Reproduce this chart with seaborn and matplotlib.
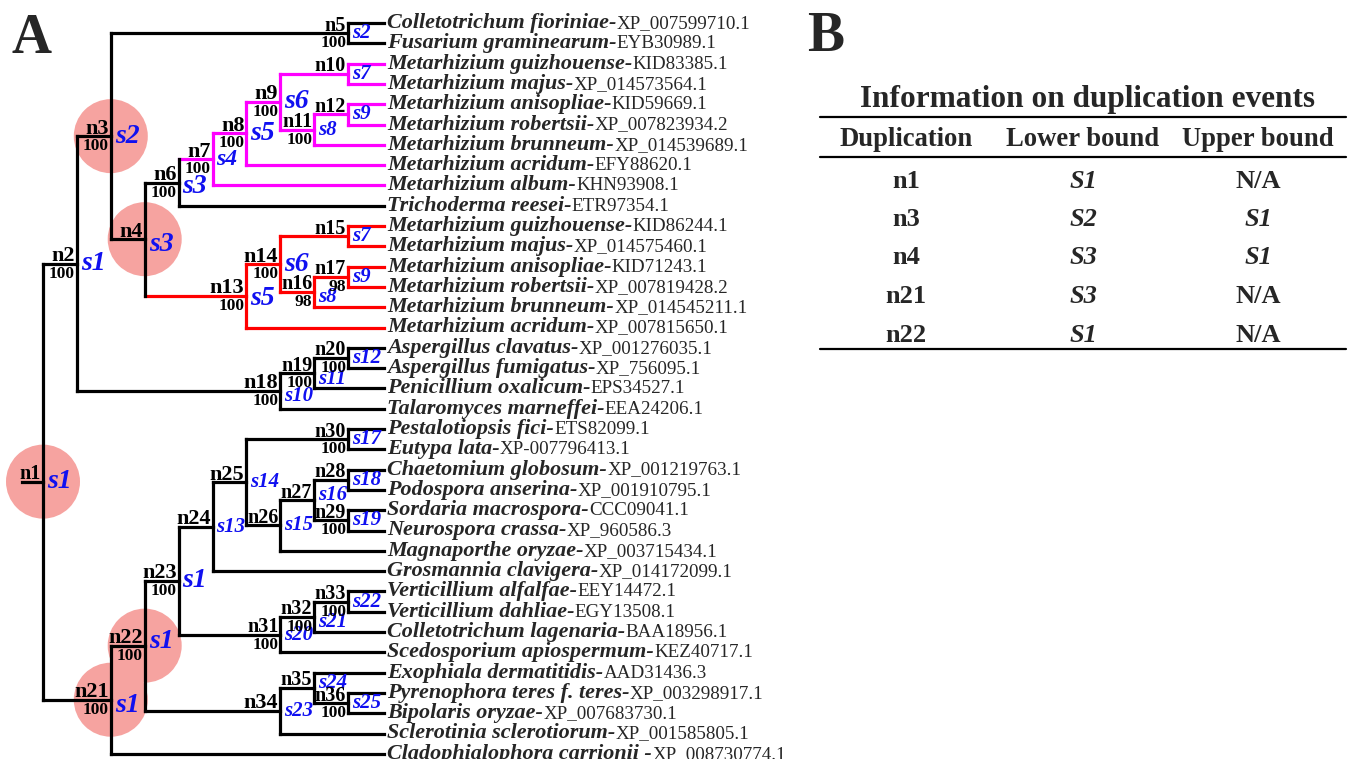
import matplotlib
matplotlib.use("Agg")
import matplotlib.pyplot as plt
import seaborn as sns
import pandas as pd
from matplotlib.patches import Circle

# ---- data -------------------------------------------------------------
species = [
    "Colletotrichum fioriniae", "Fusarium graminearum",
    "Metarhizium guizhouense", "Metarhizium majus", "Metarhizium anisopliae",
    "Metarhizium robertsii", "Metarhizium brunneum", "Metarhizium acridum",
    "Metarhizium album", "Trichoderma reesei",
    "Metarhizium guizhouense", "Metarhizium majus", "Metarhizium anisopliae",
    "Metarhizium robertsii", "Metarhizium brunneum", "Metarhizium acridum",
    "Aspergillus clavatus", "Aspergillus fumigatus", "Penicillium oxalicum",
    "Talaromyces marneffei", "Pestalotiopsis fici", "Eutypa lata",
    "Chaetomium globosum", "Podospora anserina", "Sordaria macrospora",
    "Neurospora crassa", "Magnaporthe oryzae", "Grosmannia clavigera",
    "Verticillium alfalfae", "Verticillium dahliae", "Colletotrichum lagenaria",
    "Scedosporium apiospermum", "Exophiala dermatitidis",
    "Pyrenophora teres f. teres", "Bipolaris oryzae",
    "Sclerotinia sclerotiorum", "Cladophialophora carrionii ",
]
accessions = [
    "XP_007599710.1", "EYB30989.1", "KID83385.1", "XP_014573564.1",
    "KID59669.1", "XP_007823934.2", "XP_014539689.1", "EFY88620.1",
    "KHN93908.1", "ETR97354.1", "KID86244.1", "XP_014575460.1",
    "KID71243.1", "XP_007819428.2", "XP_014545211.1", "XP_007815650.1",
    "XP_001276035.1", "XP_756095.1", "EPS34527.1", "EEA24206.1",
    "ETS82099.1", "XP-007796413.1", "XP_001219763.1", "XP_001910795.1",
    "CCC09041.1", "XP_960586.3", "XP_003715434.1", "XP_014172099.1",
    "EEY14472.1", "EGY13508.1", "BAA18956.1", "KEZ40717.1",
    "AAD31436.3", "XP_003298917.1", "XP_007683730.1", "XP_001585805.1",
    "XP_008730774.1",
]

node_names = ["n%d" % i for i in range(1, 37)]
# column (depth slot) of each internal node
node_cols = [0, 1, 2, 3, 9, 4, 5, 6, 7, 9, 8, 9, 6, 7, 9, 8, 9, 7, 8, 9,
             2, 3, 4, 5, 6, 7, 8, 9, 9, 9, 7, 8, 9, 7, 8, 9]
# children: str = internal node, int = leaf index
node_children = [
    ("n2", "n21"), ("n3", "n18"), ("n5", "n4"), ("n6", "n13"), (0, 1),
    ("n7", 9), ("n8", 8), ("n9", 7), ("n10", "n11"), (2, 3),
    ("n12", 6), (4, 5), ("n14", 15), ("n15", "n16"), (10, 11),
    ("n17", 14), (12, 13), ("n19", 19), ("n20", 18), (16, 17),
    ("n22", 36), ("n23", "n34"), ("n24", "n31"), ("n25", 27), ("n30", "n26"),
    ("n27", 26), ("n28", "n29"), (22, 23), (24, 25), (20, 21),
    ("n32", 31), ("n33", 30), (28, 29), ("n35", 35), (32, "n36"), (33, 34),
]
bootstrap = [None, 100, 100, None, 100, 100, 100, 100, 100, None,
             100, None, 100, 100, None, 98, 98, 100, 100, 100,
             100, 100, 100, None, None, None, None, None, 100, 100,
             100, 100, 100, None, None, 100]
spec_labels = ["s1", "s1", "s2", "s3", "s2", "s3", "s4", "s5", "s6", "s7",
               "s8", "s9", "s5", "s6", "s7", "s8", "s9", "s10", "s11", "s12",
               "s1", "s1", "s1", "s13", "s14", "s15", "s16", "s18", "s19", "s17",
               "s20", "s21", "s22", "s23", "s24", "s25"]
duplication_nodes = ["n1", "n3", "n4", "n21", "n22"]
clade_roots = {"n7": "magenta", "n13": "red"}

table_dup = ["n1", "n3", "n4", "n21", "n22"]
table_lower = ["S1", "S2", "S3", "S3", "S1"]
table_upper = ["N/A", "S1", "S1", "N/A", "N/A"]

# ---- layout / style ---------------------------------------------------
X0, DX, Y0, DY = 43, 33.9, 23, 20.3
TIP_COL = 10.07
BLUE = "#1010F0"
big_n = {"n2", "n3", "n4", "n6", "n7", "n8", "n9", "n13", "n14", "n18",
         "n21", "n22", "n23", "n24", "n25", "n34"}
big_s = {"n1", "n2", "n3", "n4", "n6", "n8", "n9", "n13", "n14",
         "n21", "n22", "n23"}
s_dy = {"n4": 5, "n6": 4, "n19": 6, "n18": 5, "n21": 6, "n27": -5,
        "n35": -5, "n13": 3, "n16": 5, "n22": -4, "n32": 5}

sns.set_theme(style="white")
plt.rcParams["font.family"] = ["Liberation Serif", "DejaVu Serif"]

def px(c):
    return X0 + c * DX

def py(i):
    return Y0 + i * DY

idx = {n: k for k, n in enumerate(node_names)}
ny = {}

def node_y(n):
    if n not in ny:
        ys = [py(c) if isinstance(c, int) else node_y(c)
              for c in node_children[idx[n]]]
        ny[n] = sum(ys) / 2
    return ny[n]

for n in node_names:
    node_y(n)

colour = {"n1": "black"}
leaf_colour = {}

def paint(n):
    for c in node_children[idx[n]]:
        if isinstance(c, int):
            leaf_colour[c] = colour[n]
        else:
            colour[c] = clade_roots.get(c, colour[n])
            paint(c)

paint("n1")

# build branch segments
vert, horiz = [], []
seg = 0
for n in node_names:
    x = px(node_cols[idx[n]])
    kids = node_children[idx[n]]
    ys = []
    for c in kids:
        if isinstance(c, int):
            cy, cx, col = py(c), px(TIP_COL), leaf_colour[c]
        else:
            cy, cx, col = ny[c], px(node_cols[idx[c]]), colour[c]
        ys.append(cy)
        horiz += [dict(x=x, y=cy, seg=seg, clade=col), dict(x=cx, y=cy, seg=seg, clade=col)]
        seg += 1
    vert += [dict(x=x, y=min(ys), seg=seg, clade=colour[n]),
             dict(x=x, y=max(ys), seg=seg, clade=colour[n])]
    seg += 1
# root stub
horiz += [dict(x=px(-0.62), y=ny["n1"], seg=seg, clade="black"),
          dict(x=px(0), y=ny["n1"], seg=seg, clade="black")]

palette = {"black": "black", "magenta": "#FF00FF", "red": "#FF0000"}

fig = plt.figure(figsize=(13.51, 7.59), dpi=100)
ax = fig.add_axes([0, 0, 1, 1])
ax.set_xlim(0, 1351)
ax.set_ylim(759, 0)

for df in (pd.DataFrame(horiz), pd.DataFrame(vert)):
    sns.lineplot(data=df, x="x", y="y", units="seg", estimator=None,
                 hue="clade", palette=palette, sort=False, legend=False,
                 lw=2.3, solid_capstyle="projecting", ax=ax, zorder=3)
ax.set_xlim(0, 1351)
ax.set_ylim(759, 0)

# duplication circles
for n in duplication_nodes:
    ax.add_patch(Circle((px(node_cols[idx[n]]), ny[n]), 37,
                        color="#F6A3A0", lw=0, zorder=1))

# node labels
for k, n in enumerate(node_names):
    x, y = px(node_cols[k]), ny[n]
    ax.text(x - 2, y - 2.5, n, ha="right", va="baseline", fontweight="bold",
            fontsize=16 if n in big_n else 14.5, color="black", zorder=4)
    if bootstrap[k] is not None:
        ax.text(x - 2, y + 2, str(bootstrap[k]), ha="right", va="top",
                fontweight="bold", fontsize=12.5, color="black", zorder=4)
    fs = 20 if n in big_s else (17 if n == "n7" else 15)
    ax.text(x + 4, y + s_dy.get(n, 0), spec_labels[k], ha="left", va="center",
            fontweight="bold", fontstyle="italic", fontsize=fs, color=BLUE,
            zorder=4)

# leaf labels: bold italic species name followed by roman accession
renderer = fig.canvas.get_renderer()
inv = ax.transData.inverted()
for i, (sp, acc) in enumerate(zip(species, accessions)):
    base = py(i) + 5
    t = ax.text(px(TIP_COL) + 3, base, sp + "-", ha="left", va="baseline",
                fontweight="bold", fontstyle="italic", fontsize=15.9, zorder=4)
    x_end = inv.transform(t.get_window_extent(renderer).get_points())[:, 0].max()
    ax.text(x_end, base, acc, ha="left", va="baseline", fontsize=13.7, zorder=4)

# panel letters
ax.text(12, 53, "A", fontsize=40, fontweight="bold", va="baseline", ha="left")
ax.text(807, 51, "B", fontsize=40, fontweight="bold", va="baseline", ha="left")

# ---- table B ----------------------------------------------------------
tx = [906, 1083, 1258]
ax.text(1088, 100, "Information on duplication events", ha="center", va="center",
        fontsize=22.5, fontweight="bold")
for yy in (117, 157, 349):
    ax.plot([820, 1346], [yy, yy], color="black", lw=1.6)
for x, h in zip(tx, ["Duplication", "Lower bound", "Upper bound"]):
    ax.text(x, 139, h, ha="center", va="center", fontsize=19.2, fontweight="bold")
for r, (d, lo, up) in enumerate(zip(table_dup, table_lower, table_upper)):
    y = 181 + r * 38.5
    ax.text(tx[0], y, d, ha="center", va="center", fontsize=19, fontweight="bold")
    ax.text(tx[1], y, lo, ha="center", va="center", fontsize=19,
            fontweight="bold", fontstyle="italic")
    ax.text(tx[2], y, up, ha="center", va="center", fontsize=19,
            fontweight="bold", fontstyle="normal" if up == "N/A" else "italic")

ax.axis("off")
fig.savefig("out.png", dpi=100)
plt.close(fig)
